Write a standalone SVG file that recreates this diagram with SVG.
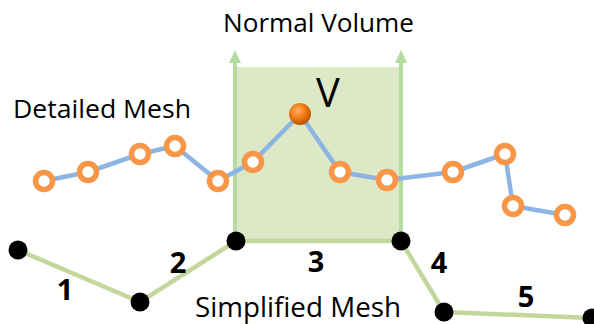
<svg xmlns="http://www.w3.org/2000/svg" width="594" height="324" viewBox="0 0 594 324">
<defs>
<style>
.lbl{font-family:"Open Sans","DejaVu Sans",sans-serif;fill:#000}
.num{font-family:"Open Sans","DejaVu Sans",sans-serif;font-weight:bold;font-size:29px;fill:#000;text-anchor:middle}
.det{fill:none;stroke:#8DB4E2;stroke-width:4.5;stroke-linejoin:round}
.simp{fill:none;stroke:#C3D69B;stroke-width:4.5}
.ring{fill:#fff;stroke:#F79646;stroke-width:5.5}
.blk{fill:#000}
.nv{stroke:#B3DCA0;stroke-width:4}
.head{fill:#B3DCA0}
</style>
<radialGradient id="vg" cx="0.4" cy="0.35" r="0.7">
<stop offset="0" stop-color="#FFB066"/>
<stop offset="0.5" stop-color="#F07A10"/>
<stop offset="1" stop-color="#B04F00"/>
</radialGradient>
</defs>
<rect width="594" height="324" fill="#fff"/>
<g id="normal-volume">
<rect x="235" y="67" width="166" height="175" fill="#D7E4BD" fill-opacity="0.85"/>
</g>
<g id="connectors">
<line class="nv" x1="235" y1="242" x2="235" y2="60"/>
<polygon class="head" points="235,50 229,63 241,63"/>
<line class="nv" x1="401" y1="242" x2="401" y2="60"/>
<polygon class="head" points="401,50 395,63 407,63"/>
<polyline class="det" points="44,181 88,172 140,154 175,146 218,181 253,162 300,114 340,172 387,180 453,172 505,154 513,206 565,215"/>
<polyline class="simp" points="18,250 140,302 236,241 401,241 444,312 592,318"/>
</g>
<g id="detailed-nodes">
<circle class="ring" cx="44" cy="181" r="8.5"/>
<circle class="ring" cx="88" cy="172" r="8.5"/>
<circle class="ring" cx="140" cy="154" r="8.5"/>
<circle class="ring" cx="175" cy="146" r="8.5"/>
<circle class="ring" cx="218" cy="181" r="8.5"/>
<circle class="ring" cx="253" cy="162" r="8.5"/>
<circle class="ring" cx="340" cy="172" r="8.5"/>
<circle class="ring" cx="387" cy="180" r="8.5"/>
<circle class="ring" cx="453" cy="172" r="8.5"/>
<circle class="ring" cx="505" cy="154" r="8.5"/>
<circle class="ring" cx="513" cy="206" r="8.5"/>
<circle class="ring" cx="565" cy="215" r="8.5"/>
</g>
<g id="vertex-v">
<circle cx="300" cy="114" r="11" fill="url(#vg)"/>
<text class="lbl" x="316" y="107" font-size="40">V</text>
</g>
<g id="simplified-nodes">
<circle class="blk" cx="18" cy="250" r="9.5"/>
<circle class="blk" cx="140" cy="302" r="9.5"/>
<circle class="blk" cx="236" cy="241" r="9.5"/>
<circle class="blk" cx="401" cy="241" r="9.5"/>
<circle class="blk" cx="444" cy="312" r="9.5"/>
<circle class="blk" cx="592" cy="318" r="9.5"/>
</g>
<g id="labels">
<text class="lbl" x="223" y="32" font-size="26" textLength="191" lengthAdjust="spacingAndGlyphs">Normal Volume</text>
<text class="lbl" x="13" y="118" font-size="26" textLength="178" lengthAdjust="spacingAndGlyphs">Detailed Mesh</text>
<text class="lbl" x="195" y="317" font-size="27" textLength="206" lengthAdjust="spacingAndGlyphs">Simplified Mesh</text>
<text class="num" x="65" y="300">1</text>
<text class="num" x="178" y="273">2</text>
<text class="num" x="316" y="272">3</text>
<text class="num" x="439" y="273">4</text>
<text class="num" x="526" y="307">5</text>
</g>
</svg>
